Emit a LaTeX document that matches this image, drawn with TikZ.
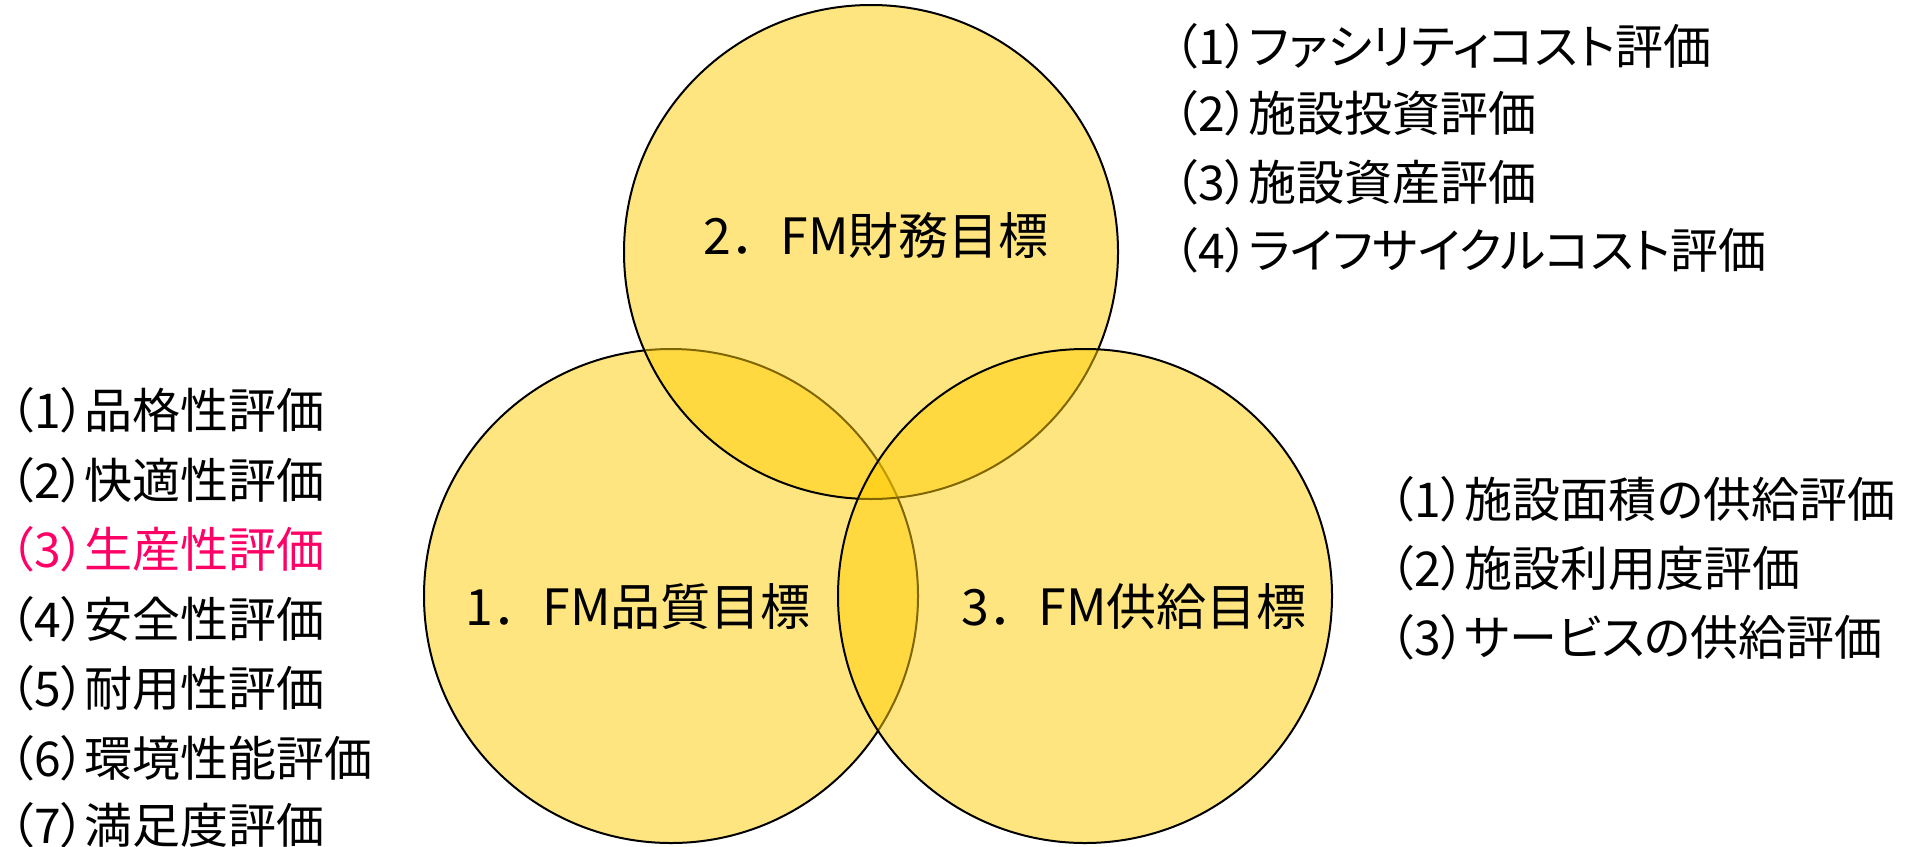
\documentclass[tikz,border=0pt]{standalone}
\usepackage{fontspec}
\newfontfamily\jp[RawFeature={+palt}]{Noto Sans CJK JP}
\newfontfamily\jpfull{Noto Sans CJK JP}
\definecolor{vennfill}{RGB}{255,204,0}
\definecolor{pinktext}{RGB}{255,0,102}
\begin{document}
\begin{tikzpicture}[x=1pt,y=-1pt,
  venn/.style={circle, draw=black, line width=2pt, fill=vennfill, fill opacity=0.5, draw opacity=1, minimum size=494pt, inner sep=0pt},
  lbl/.style={font=\jpfull\fontsize{50}{60}\selectfont, text=black, inner sep=0pt},
  item/.style={font=\jp\fontsize{48}{56}\selectfont, text=black, anchor=west, inner sep=0pt}]
\useasboundingbox (0,0) rectangle (1910,846);
\node[venn] (quality) at (671,596) {};
\node[venn] (finance) at (871,252) {};
\node[venn] (supply) at (1085,596) {};
\node[lbl] (qlabel) at (638,607) {1．FM品質目標};
\node[lbl] (flabel) at (876,235) {2．FM財務目標};
\node[lbl] (slabel) at (1134,607) {3．FM供給目標};
% left list
\node[item] (q1) at (10,410) {（1）品格性評価};
\node[item] (q2) at (10,480) {（2）快適性評価};
\node[item, text=pinktext] (q3) at (10,549) {（3）生産性評価};
\node[item] (q4) at (10,619) {（4）安全性評価};
\node[item] (q5) at (10,688) {（5）耐用性評価};
\node[item] (q6) at (10,758) {（6）環境性能評価};
\node[item] (q7) at (10,825) {（7）満足度評価};
% top right list
\node[item] (f1) at (1174,46) {（1）ファシリティコスト評価};
\node[item] (f2) at (1174,113) {（2）施設投資評価};
\node[item] (f3) at (1174,182) {（3）施設資産評価};
\node[item] (f4) at (1174,250) {（4）ライフサイクルコスト評価};
% bottom right list
\node[item] (s1) at (1390,499) {（1）施設面積の供給評価};
\node[item] (s2) at (1390,568) {（2）施設利用度評価};
\node[item] (s3) at (1390,637) {（3）サービスの供給評価};
\end{tikzpicture}
\end{document}
